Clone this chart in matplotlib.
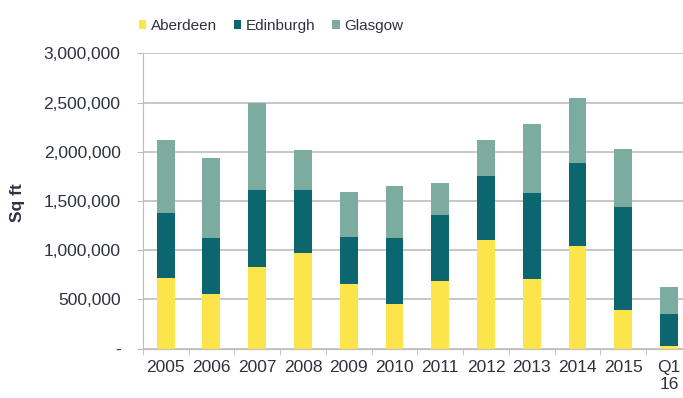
import numpy as np
import matplotlib.pyplot as plt
from matplotlib.ticker import FuncFormatter, FixedLocator

plt.rcParams['font.family'] = ['Liberation Sans', 'DejaVu Sans']

# data (sq ft)
labels = ['2005', '2006', '2007', '2008', '2009', '2010', '2011',
          '2012', '2013', '2014', '2015', 'Q1\n16']
aberdeen = [715000, 553000, 827000, 970000, 654000, 451000, 691000,
            1105000, 708000, 1047000, 393000, 27000]
edinburgh = [661000, 575000, 783000, 640000, 484000, 677000, 668000,
             650000, 874000, 837000, 1050000, 323000]
glasgow = [745000, 807000, 884000, 409000, 458000, 529000, 328000,
           366000, 702000, 667000, 586000, 280000]

col_abd = '#FBE54A'
col_edi = '#0C6670'
col_gla = '#7BAC9F'
txt = '#2E3140'

fig = plt.figure(figsize=(6.83, 3.98), dpi=100)
ax = fig.add_axes([0.209, 0.124, 0.804, 0.742])

x = np.arange(len(labels))
w = 0.39
a = np.array(aberdeen)
e = np.array(edinburgh)
g = np.array(glasgow)
ax.bar(x, a, w, color=col_abd, label='Aberdeen', zorder=3)
ax.bar(x, e, w, bottom=a, color=col_edi, label='Edinburgh', zorder=3)
ax.bar(x, g, w, bottom=a + e, color=col_gla, label='Glasgow', zorder=3)

ax.set_ylim(0, 3000000)
ax.set_xlim(-0.5, len(labels) - 0.5)
ax.set_yticks(np.arange(0, 3000001, 500000))
ax.yaxis.set_major_formatter(FuncFormatter(lambda v, p: '-' if v == 0 else f'{v:,.0f}'))
ax.yaxis.grid(True, color='#BDBDBD', linewidth=1.2, zorder=0)
ax.set_axisbelow(True)

ax.set_xticks(x)
ax.set_xticklabels(labels)
ax.xaxis.set_minor_locator(FixedLocator(np.arange(-0.5, len(labels), 1)))
ax.tick_params(axis='x', which='major', length=0, pad=8, labelsize=12.5, colors=txt)
ax.tick_params(axis='x', which='minor', length=4, color='#BDBDBD')
ax.tick_params(axis='y', length=4, color='#BDBDBD', labelsize=12.5, labelcolor=txt, pad=12)

for s in ['top', 'right']:
    ax.spines[s].set_visible(False)
ax.spines['left'].set_color('#BDBDBD')
ax.spines['bottom'].set_color('#BDBDBD')

fig.text(0.025, 0.49, 'Sq ft', rotation=90, ha='center', va='center',
         fontsize=12.5, fontweight='bold', color=txt)

fig.legend(loc='center', bbox_to_anchor=(0.397, 0.935), ncol=3, frameon=False,
           fontsize=11, handlelength=0.5, handleheight=0.6, handletextpad=0.3,
           columnspacing=1.1, labelcolor=txt)

fig.savefig('out.png', dpi=100)
